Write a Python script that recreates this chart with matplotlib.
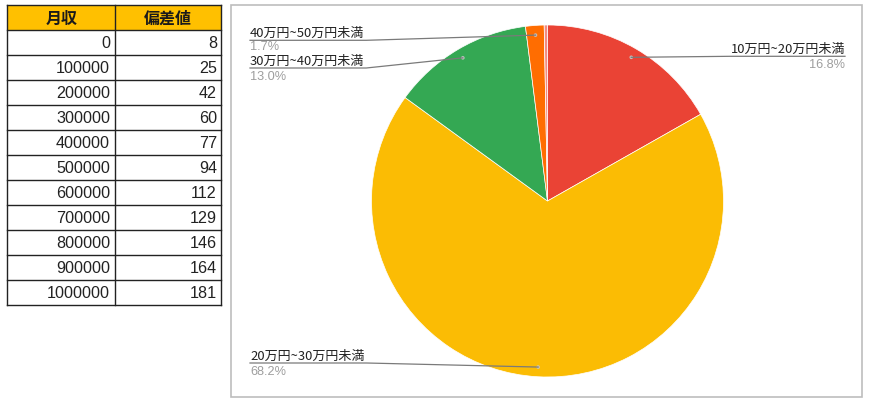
import matplotlib
matplotlib.use("Agg")
import matplotlib.pyplot as plt
import numpy as np
from matplotlib.patches import Rectangle, Circle
from matplotlib.lines import Line2D

# ---------------- data ----------------
table_headers = ["月収", "偏差値"]
income = [0, 100000, 200000, 300000, 400000, 500000, 600000, 700000, 800000, 900000, 1000000]
deviation = [8, 25, 42, 60, 77, 94, 112, 129, 146, 164, 181]

categories = ["10万円~20万円未満", "20万円~30万円未満", "30万円~40万円未満",
              "40万円~50万円未満", "50万円以上"]
shares = [16.8, 68.2, 13.0, 1.7, 0.3]
show_label = [True, True, True, True, False]
colors = ["#EA4335", "#FBBC04", "#34A853", "#FF6D01", "#F28B82"]

# ---------------- layout ----------------
W, H = 870, 403
CJK = ["Noto Sans CJK JP", "DejaVu Sans"]
NUM = ["Liberation Sans", "DejaVu Sans"]

fig = plt.figure(figsize=(W / 100, H / 100), dpi=100)
ax = fig.add_axes([0, 0, 1, 1])

# table geometry (pixels)
tx0, tx1, tx2 = 7.5, 115, 221.5
ty0, row_h = 5, 25

# pie geometry (pixels)
pcx, pcy, pr = 547.5, 201, 176

# label layout: (anchor x, baseline y, ha, pct baseline y)
label_layout = {
    0: (845, 53.3, "right", 67.5),
    1: (250, 360.0, "left", 375.0),
    2: (250, 65.0, "left", 79.5),
    3: (250, 37.3, "left", 49.5),
}

# ---------------- pie ----------------
wedges, _ = ax.pie(shares, colors=colors, startangle=-90, counterclock=True,
                   center=(pcx, pcy), radius=pr,
                   wedgeprops=dict(edgecolor="white", linewidth=0.5))

# chart frame
ax.add_patch(Rectangle((231, 5), 631, 392, fill=False, edgecolor="#bdbdbd", linewidth=1.2))

# ---------------- table ----------------
nrows = len(income)
ax.add_patch(Rectangle((tx0, ty0), tx2 - tx0, row_h, facecolor="#FFC000", edgecolor="none"))
for i in range(nrows + 2):
    y = ty0 + i * row_h
    ax.add_line(Line2D([tx0, tx2], [y, y], color="#222222", linewidth=1.0))
for x in (tx0, tx1, tx2):
    ax.add_line(Line2D([x, x], [ty0, ty0 + (nrows + 1) * row_h], color="#222222", linewidth=1.0))

ax.text((tx0 + tx1) / 2, ty0 + 18.5, table_headers[0], ha="center", va="baseline",
        fontsize=11.5, fontweight="bold", family=CJK, color="#1a1a1a")
ax.text((tx1 + tx2) / 2, ty0 + 18.5, table_headers[1], ha="center", va="baseline",
        fontsize=11.5, fontweight="bold", family=CJK, color="#1a1a1a")
for i, (inc, dev) in enumerate(zip(income, deviation)):
    base = ty0 + (i + 1) * row_h + 18.3
    ax.text(tx1 - 5, base, f"{inc}", ha="right", va="baseline", fontsize=11.6,
            family=NUM, color="#222222")
    ax.text(tx2 - 4.5, base, f"{dev}", ha="right", va="baseline", fontsize=11.6,
            family=NUM, color="#222222")

# ---------------- labels ----------------
ax.set_xlim(0, W)
ax.set_ylim(H, 0)
ax.set_aspect("equal")
ax.axis("off")

fig.canvas.draw()
renderer = fig.canvas.get_renderer()
inv = ax.transData.inverted()
total = sum(shares)

for i, w in enumerate(wedges):
    if not show_label[i]:
        continue
    mid = np.deg2rad((w.theta1 + w.theta2) / 2)
    dx = pcx + 0.945 * pr * np.cos(mid)
    dy = pcy + 0.945 * pr * np.sin(mid)
    lx, lb, ha, pb = label_layout[i]
    t = ax.text(lx, lb, categories[i], ha=ha, va="baseline", fontsize=9.4,
                family=CJK, color="#222222")
    ax.text(lx, pb, f"{shares[i] / total * 100:.1f}%", ha=ha, va="baseline",
            fontsize=9.2, family=NUM, color="#9e9e9e")
    bb = t.get_window_extent(renderer)
    (x0, _), (x1, _) = inv.transform([(bb.x0, bb.y0), (bb.x1, bb.y1)])
    x0, x1 = min(x0, x1), max(x0, x1)
    uy = lb + 3.0
    if ha == "left":
        xs, ys = [x0, x1 + 2, dx], [uy, uy, dy]
    else:
        xs, ys = [dx, x0, x1], [dy, uy, uy]
    ax.add_line(Line2D(xs, ys, color="#7a7a7a", linewidth=0.9))
    ax.add_patch(Circle((dx, dy), 1.8, facecolor="#c8c8c8", edgecolor="none", alpha=0.9))

fig.savefig("out.png", dpi=100)
